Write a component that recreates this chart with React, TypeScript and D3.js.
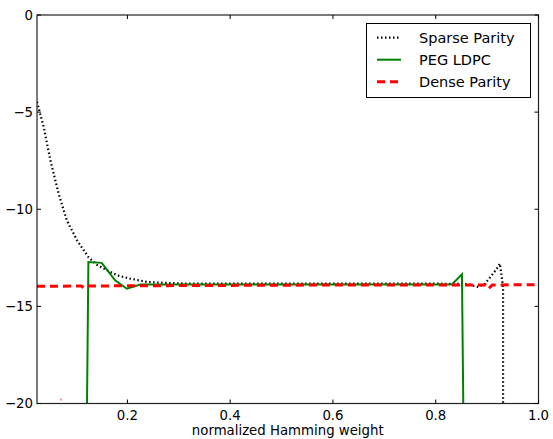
import React from 'react';
import * as d3 from 'd3';

// values
const sparseX = [0.024, 0.037, 0.05, 0.066, 0.082, 0.102, 0.124, 0.14, 0.16, 0.18, 0.205, 0.24, 0.3, 0.4, 0.5, 0.6, 0.7, 0.8, 0.86, 0.883, 0.896, 0.909, 0.919, 0.925, 0.931, 0.931];
const sparseY = [-4.47, -5.76, -7.47, -9.19, -10.57, -11.6, -12.46, -12.85, -13.14, -13.4, -13.57, -13.75, -13.82, -13.83, -13.83, -13.83, -13.83, -13.83, -13.85, -14.0, -13.83, -13.4, -13.06, -12.8, -14, -21];

const pegX = [0.121, 0.124, 0.15, 0.176, 0.199, 0.225, 0.3, 0.5, 0.7, 0.8315, 0.851, 0.854];
const pegY = [-21, -12.72, -12.76, -13.66, -14.09, -13.87, -13.87, -13.87, -13.87, -13.87, -13.35, -21];

const denseX = [0.024, 0.11, 0.115, 0.12, 0.3, 0.6, 0.88, 0.897, 0.903, 0.91, 1.0];
const denseY = [-13.97, -13.95, -14.04, -13.95, -13.93, -13.9, -13.9, -13.9, -14.09, -13.9, -13.88];
const denseStrayX = [0.0693, 0.0717];
const denseStrayY = [-19.8, -19.8];

const xTicks = [0.2, 0.4, 0.6, 0.8, 1.0];
const yTicks = [0, -5, -10, -15, -20];
const legendLabels = ['Sparse Parity', 'PEG LDPC', 'Dense Parity'];

const W = 553;
const H = 439;
const left = 37, right = 538.5, top = 15, bottom = 403.5;
const font = 'DejaVu Sans, sans-serif';

export default function App() {
  const x = d3.scaleLinear().domain([0.024, 1.0]).range([left, right]);
  const y = d3.scaleLinear().domain([-20, 0]).range([bottom, top]);

  const line = (xs: number[], ys: number[]) =>
    d3.line<number>().x((d) => x(xs[d])).y((d) => y(ys[d]))(d3.range(xs.length)) || '';

  const minus = (v: number) => (v < 0 ? '\u2212' + Math.abs(v) : String(v));

  const styles = [
    { stroke: '#000', width: 2.2, dash: '1.5,2.5' },
    { stroke: '#008000', width: 2, dash: undefined },
    { stroke: '#ff0000', width: 3, dash: '8,5' },
  ];

  return (
    <svg width={W} height={H} style={{ position: 'absolute', left: 0, top: 0, background: '#fff' }}>
      <defs>
        <clipPath id="plot">
          <rect x={left} y={top} width={right - left} height={bottom - top} />
        </clipPath>
      </defs>
      <rect x={0} y={0} width={W} height={H} fill="#fff" />

      <g clipPath="url(#plot)" fill="none">
        <path d={line(sparseX, sparseY)} stroke={styles[0].stroke} strokeWidth={styles[0].width} strokeDasharray={styles[0].dash} />
        <path d={line(pegX, pegY)} stroke={styles[1].stroke} strokeWidth={styles[1].width} />
        <path d={line(denseX, denseY)} stroke={styles[2].stroke} strokeWidth={styles[2].width} strokeDasharray={styles[2].dash} />
        <path d={line(denseStrayX, denseStrayY)} stroke="#ff0000" strokeOpacity={0.7} strokeWidth={2} />
      </g>

      {/* frame */}
      <rect x={left} y={top} width={right - left} height={bottom - top} fill="none" stroke="#222" strokeWidth={1.2} />

      {/* ticks */}
      {xTicks.map((t) => (
        <g key={'x' + t}>
          <line x1={x(t)} x2={x(t)} y1={bottom} y2={bottom - 4} stroke="#000" />
          <line x1={x(t)} x2={x(t)} y1={top} y2={top + 4} stroke="#000" />
          <text x={x(t)} y={419.5} textAnchor="middle" fontFamily={font} fontSize={13.3} fill="#000">
            {t.toFixed(1)}
          </text>
        </g>
      ))}
      {yTicks.map((t) => (
        <g key={'y' + t}>
          <line x1={left} x2={left + 4} y1={y(t)} y2={y(t)} stroke="#000" />
          <line x1={right} x2={right - 4} y1={y(t)} y2={y(t)} stroke="#000" />
          <text x={left - 4} y={y(t) + 4.8} textAnchor="end" fontFamily={font} fontSize={13.3} fill="#000">
            {minus(t)}
          </text>
        </g>
      ))}

      <text x={(left + right) / 2} y={435} textAnchor="middle" fontFamily={font} fontSize={13.3} fill="#000">
        normalized Hamming weight
      </text>

      {/* legend */}
      <rect x={366.5} y={23.5} width={164} height={74} fill="#fff" stroke="#000" strokeWidth={1} />
      {legendLabels.map((lab, i) => {
        const ly = 37.7 + i * 22;
        const s = styles[i];
        return (
          <g key={lab}>
            <line x1={377} x2={401} y1={ly} y2={ly} stroke={s.stroke} strokeWidth={s.width} strokeDasharray={s.dash} />
            <text x={419} y={ly + 5.2} fontFamily={font} fontSize={14.5} fill="#000">
              {lab}
            </text>
          </g>
        );
      })}
    </svg>
  );
}
